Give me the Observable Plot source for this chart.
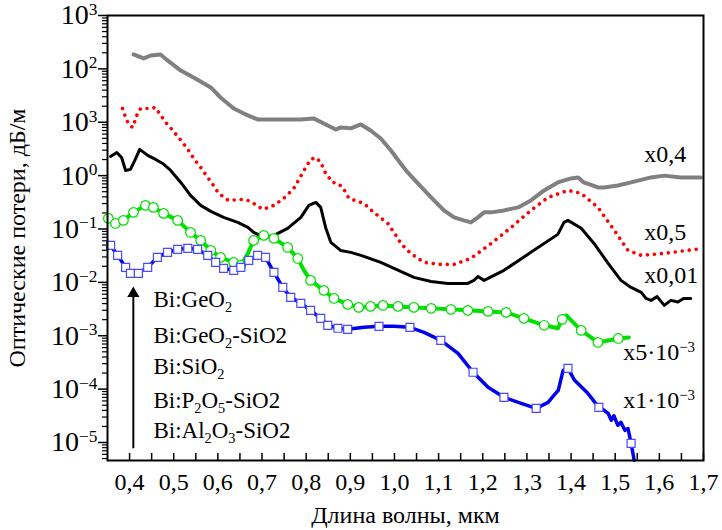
<!DOCTYPE html>
<html><head><meta charset="utf-8">
<script src="https://cdn.jsdelivr.net/npm/d3@7"></script>
<script src="https://cdn.jsdelivr.net/npm/@observablehq/plot@0.6"></script>
<style>body{margin:0;background:#fff}</style>
</head><body><div id="chart"></div>
<script>
// wavelength (µm), scaled optical loss (dB/m)
const grayGeO2 = [[0.409,186],[0.432,157],[0.448,178],[0.470,186],[0.486,144],[0.516,93],[0.545,69],[0.584,44.9],[0.606,29.1],[0.636,18.1],[0.668,13.4],[0.690,11.3],[0.736,11.3],[0.788,11.3],[0.817,11.8],[0.840,9.5],[0.867,7.3],[0.878,8.0],[0.901,7.7],[0.924,9.1],[0.946,7.0],[0.969,4.97],[0.992,2.96],[1.014,1.69],[1.030,1.15],[1.053,0.714],[1.083,0.39],[1.112,0.223],[1.135,0.165],[1.157,0.145],[1.173,0.133],[1.189,0.165],[1.203,0.205],[1.219,0.205],[1.248,0.223],[1.280,0.254],[1.309,0.343],[1.339,0.528],[1.370,0.746],[1.400,0.887],[1.416,0.925],[1.429,0.746],[1.461,0.601],[1.475,0.601],[1.506,0.655],[1.536,0.746],[1.581,0.925],[1.611,1.0],[1.649,0.925],[1.694,0.925]];
const redGeO2SiO2 = [[0.384,18.1],[0.391,12.3],[0.398,9.1],[0.407,8.0],[0.418,14.6],[0.425,18.1],[0.448,18.1],[0.459,18.9],[0.466,15.3],[0.482,9.9],[0.498,7.0],[0.511,5.19],[0.532,3.10],[0.545,2.10],[0.561,1.43],[0.577,0.925],[0.590,0.655],[0.602,0.464],[0.624,0.343],[0.652,0.358],[0.668,0.343],[0.681,0.301],[0.702,0.233],[0.727,0.277],[0.749,0.374],[0.772,0.575],[0.795,1.25],[0.810,2.01],[0.822,2.19],[0.833,1.77],[0.844,1.10],[0.860,0.746],[0.872,0.714],[0.883,0.601],[0.897,0.374],[0.931,0.301],[0.953,0.205],[0.985,0.127],[1.008,0.0667],[1.014,0.0537],[1.037,0.0349],[1.067,0.0237],[1.105,0.0217],[1.135,0.0217],[1.173,0.0281],[1.219,0.0537],[1.264,0.107],[1.309,0.223],[1.348,0.391],[1.393,0.528],[1.423,0.464],[1.461,0.254],[1.498,0.0942],[1.529,0.0397],[1.559,0.0321],[1.611,0.0349],[1.699,0.0434]];
const blackSiO2 = [[0.357,2.29],[0.371,2.72],[0.382,2.19],[0.391,1.25],[0.402,1.31],[0.414,2.10],[0.423,3.10],[0.441,2.39],[0.459,2.01],[0.475,1.69],[0.493,1.25],[0.516,0.746],[0.538,0.426],[0.561,0.277],[0.584,0.214],[0.613,0.165],[0.645,0.133],[0.668,0.107],[0.681,0.0863],[0.704,0.0697],[0.727,0.0759],[0.758,0.103],[0.788,0.165],[0.806,0.277],[0.822,0.315],[0.833,0.254],[0.844,0.107],[0.856,0.0561],[0.878,0.0397],[0.901,0.0365],[0.924,0.0321],[0.969,0.0237],[1.044,0.0124],[1.083,0.0104],[1.121,0.00957],[1.166,0.00957],[1.180,0.0109],[1.189,0.0129],[1.203,0.0109],[1.248,0.0168],[1.309,0.0365],[1.370,0.0793],[1.384,0.133],[1.393,0.145],[1.423,0.103],[1.452,0.0537],[1.484,0.0227],[1.513,0.0109],[1.536,0.00805],[1.559,0.0065],[1.570,0.0050],[1.581,0.0046],[1.595,0.0054],[1.611,0.0037],[1.626,0.0046],[1.642,0.0043],[1.655,0.0050],[1.671,0.0050]];
const greenP2O5 = [[0.352,0.158],[0.368,0.127],[0.386,0.145],[0.409,0.205],[0.436,0.277],[0.454,0.254],[0.477,0.196],[0.509,0.145],[0.538,0.0863],[0.561,0.0612],[0.584,0.0397],[0.606,0.0294],[0.636,0.0237],[0.652,0.0208],[0.668,0.0349],[0.681,0.0612],[0.704,0.0759],[0.727,0.0667],[0.758,0.0452],[0.781,0.0281],[0.795,0.0168],[0.810,0.0109],[0.840,0.00708],[0.863,0.0050],[0.894,0.00387],[0.919,0.0034],[0.946,0.00355],[0.974,0.0037],[1.008,0.00355],[1.044,0.0034],[1.083,0.00326],[1.128,0.00312],[1.166,0.00299],[1.212,0.00286],[1.253,0.00274],[1.293,0.00212],[1.339,0.00157],[1.370,0.00138],[1.380,0.00203],[1.389,0.00241],[1.423,0.00126],[1.461,0.00075],[1.507,0.00089],[1.531,0.00093]];
const greenMarks = [[0.352,0.158],[0.368,0.127],[0.386,0.145],[0.409,0.205],[0.436,0.277],[0.454,0.254],[0.477,0.196],[0.509,0.145],[0.538,0.0863],[0.561,0.0612],[0.584,0.0397],[0.606,0.0294],[0.636,0.0237],[0.652,0.0208],[0.681,0.0612],[0.704,0.0759],[0.727,0.0667],[0.758,0.0452],[0.781,0.0281],[0.810,0.0109],[0.840,0.00708],[0.863,0.0050],[0.894,0.00387],[0.919,0.0034],[0.946,0.00355],[0.974,0.0037],[1.008,0.00355],[1.044,0.0034],[1.083,0.00326],[1.128,0.00312],[1.166,0.00299],[1.212,0.00286],[1.253,0.00274],[1.293,0.00212],[1.339,0.00157],[1.380,0.00203],[1.423,0.00126],[1.461,0.00075],[1.507,0.00089]];
const blueAl2O3 = [[0.357,0.0493],[0.373,0.0321],[0.391,0.0191],[0.402,0.0148],[0.420,0.0148],[0.441,0.0191],[0.463,0.0294],[0.486,0.0365],[0.509,0.0415],[0.532,0.0434],[0.554,0.0415],[0.577,0.0321],[0.595,0.0237],[0.613,0.0183],[0.636,0.0168],[0.652,0.0191],[0.670,0.0258],[0.690,0.0321],[0.708,0.0294],[0.727,0.0154],[0.747,0.00805],[0.765,0.00524],[0.788,0.00405],[0.810,0.00299],[0.833,0.00212],[0.849,0.00157],[0.872,0.00138],[0.894,0.00132],[0.931,0.00144],[0.965,0.0015],[0.999,0.0015],[1.035,0.00144],[1.067,0.00116],[1.105,0.00082],[1.144,0.000468],[1.178,0.000207],[1.212,0.000108],[1.248,0.0000702],[1.287,0.0000542],[1.321,0.0000437],[1.348,0.0000566],[1.361,0.0000766],[1.371,0.000095],[1.382,0.000225],[1.393,0.000245],[1.408,0.000146],[1.438,0.0000834],[1.463,0.0000456],[1.475,0.0000401],[1.484,0.0000352],[1.491,0.0000261],[1.497,0.0000317],[1.506,0.000021],[1.513,0.0000238],[1.522,0.0000169],[1.529,0.0000183],[1.536,0.00000966],[1.543,0.00000464]];
const blueMarks = [[0.357,0.0493],[0.373,0.0321],[0.391,0.0191],[0.402,0.0148],[0.420,0.0148],[0.441,0.0191],[0.463,0.0294],[0.486,0.0365],[0.509,0.0415],[0.532,0.0434],[0.554,0.0415],[0.577,0.0321],[0.595,0.0237],[0.613,0.0183],[0.636,0.0168],[0.652,0.0191],[0.670,0.0258],[0.690,0.0321],[0.708,0.0294],[0.727,0.0154],[0.747,0.00805],[0.765,0.00524],[0.788,0.00405],[0.810,0.00299],[0.833,0.00212],[0.849,0.00157],[0.872,0.00138],[0.894,0.00132],[0.965,0.0015],[1.035,0.00144],[1.105,0.00082],[1.178,0.000207],[1.248,0.0000702],[1.321,0.0000437],[1.393,0.000245],[1.463,0.0000456],[1.536,0.00000966]];

const scaleLabels = ["x0,4","x0,5","x0,01","x5·10^{−3}","x1·10^{−3}"];
const scaleLabelX = [1.566,1.566,1.566,1.518,1.518];
const scaleLabelY = [2.5,0.086,0.0135,0.00049,0.000062];

const glassLabels = ["Bi:GeO_{2}","Bi:GeO_{2}-SiO2","Bi:SiO_{2}","Bi:P_{2}O_{5}-SiO2","Bi:Al_{2}O_{3}-SiO2"];
const glassLabelX = 0.454;
const glassLabelY = [0.00481,0.00102,0.000267,0.0000617,0.0000169];
const arrowX = 0.4085, arrowFrom = 0.0000078, arrowTo = 0.0062;

const xTicks = [0.4,0.5,0.6,0.7,0.8,0.9,1.0,1.1,1.2,1.3,1.4,1.5,1.6,1.7];
const xTickLabels = ["0,4","0,5","0,6","0,7","0,8","0,9","1,0","1,1","1,2","1,3","1,4","1,5","1,6","1,7"];
const xMinorTicks = [0.45,0.55,0.65,0.75,0.85,0.95,1.05,1.15,1.25,1.35,1.45,1.55,1.65];
const yTicks = [1e-5,1e-4,1e-3,1e-2,1e-1,1,10,100,1000];
const yTickLabels = ["10^{−5}","10^{−4}","10^{−3}","10^{−2}","10^{−1}","10^{0}","10^{3}","10^{2}","10^{3}"];
const yMinorTicks = [];
for (let e = -6; e < 3; e++) for (let m = 2; m <= 9; m++) { const v = m * Math.pow(10, e); if (v >= 4.6e-6 && v <= 1000) yMinorTicks.push(v); }

const X = d => d[0], Y = d => d[1];
const fontFam = "'Liberation Serif','Times New Roman',serif";

const chart = Plot.plot({
  width: 722, height: 530,
  marginLeft: 107, marginRight: 19, marginTop: 15, marginBottom: 70,
  style: {fontFamily: fontFam, fontSize: "24px", color: "black", background: "white"},
  x: {domain: [0.35, 1.7]},
  y: {type: "log", domain: [4.6e-6, 1000]},
  marks: [
    Plot.tickX(xTicks.concat(xMinorTicks), {x: d => d, insetTop: 438, stroke: "black", strokeWidth: 1.5}),
    Plot.axisX({ticks: xTicks, tickSize: 0, tickPadding: 12, tickFormat: d => xTickLabels[xTicks.indexOf(d)],
      label: "Длина волны, мкм", labelAnchor: "center", labelOffset: 62, labelArrow: "none"}),
    Plot.axisY({ticks: yMinorTicks, tickSize: 5, tickFormat: () => "", strokeWidth: 1.2}),
    Plot.axisY({ticks: yTicks, tickSize: 9, tickPadding: 1, strokeWidth: 1.5, fontSize: 28, tickFormat: d => yTickLabels[yTicks.indexOf(d)],
      label: null}),
    Plot.axisY({ticks: [], tickSize: 0, label: "Оптические потери, дБ/м", labelAnchor: "center", labelOffset: 100, labelArrow: "none", fontSize: 24}),
    Plot.line(grayGeO2, {x: X, y: Y, stroke: "#808080", strokeWidth: 4}),
    Plot.line(redGeO2SiO2, {x: X, y: Y, stroke: "#ff0000", strokeWidth: 3.6, strokeDasharray: "0.01,7", strokeLinecap: "round"}),
    Plot.line(blackSiO2, {x: X, y: Y, stroke: "black", strokeWidth: 3}),
    Plot.line(greenP2O5, {x: X, y: Y, stroke: "#00e000", strokeWidth: 4}),
    Plot.dot(greenMarks, {x: X, y: Y, r: 4.8, stroke: "#00dd00", fill: "white", strokeWidth: 1.2}),
    Plot.line(blueAl2O3, {x: X, y: Y, stroke: "#0000ee", strokeWidth: 3.5}),
    Plot.dot(blueMarks, {x: X, y: Y, r: 4.5, symbol: "square", stroke: "#4a4aff", fill: "white", strokeWidth: 1.2}),
    Plot.link([0], {x1: () => arrowX, x2: () => arrowX, y1: () => arrowFrom, y2: () => arrowTo, stroke: "black", strokeWidth: 2}),
    Plot.dot([0], {x: () => arrowX, y: () => arrowTo, symbol: "triangle", r: 4.5, fill: "black", stroke: "none"}),
    Plot.text(glassLabels, {x: () => glassLabelX, y: (d, i) => glassLabelY[i], text: d => d, textAnchor: "start", fontSize: 23}),
    Plot.text(scaleLabels, {x: (d, i) => scaleLabelX[i], y: (d, i) => scaleLabelY[i], text: d => d, textAnchor: "start", fontSize: 24}),
    Plot.frame({stroke: "black", strokeWidth: 2})
  ]
});
document.getElementById("chart").appendChild(chart);

function richify(root) {
  root.querySelectorAll("text").forEach(t => {
    if (t.querySelector("tspan")) return;
    const s = t.textContent;
    if (!/[\^_]\{/.test(s)) return;
    const base = parseFloat(getComputedStyle(t).fontSize) || 24;
    t.textContent = "";
    const re = /([\^_])\{([^}]*)\}/g;
    let last = 0, m, cur = 0;
    const add = (str, shift, scale) => {
      if (!str) return;
      const sp = document.createElementNS("http://www.w3.org/2000/svg", "tspan");
      sp.textContent = str;
      if (shift - cur !== 0) sp.setAttribute("dy", (shift - cur).toFixed(2));
      if (scale !== 1) sp.setAttribute("font-size", (base * scale).toFixed(1));
      cur = shift;
      t.appendChild(sp);
    };
    while ((m = re.exec(s))) {
      add(s.slice(last, m.index), 0, 1);
      add(m[2], m[1] === "^" ? -0.34 * base : 0.22 * base, 0.62);
      last = re.lastIndex;
    }
    add(s.slice(last), 0, 1);
  });
}
richify(chart);
</script>
</body></html>
